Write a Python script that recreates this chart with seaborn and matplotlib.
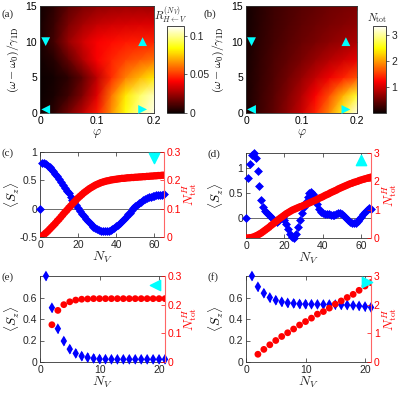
import numpy as np
import matplotlib
matplotlib.use("Agg")
import matplotlib.pyplot as plt
import seaborn as sns

sns.set_style("ticks")
plt.rcParams['font.family'] = ['Liberation Sans', 'DejaVu Sans']
plt.rcParams['mathtext.fontset'] = 'cm'

## heatmap grids (phi columns, detuning rows from bottom to top)
phi = [0.0, 0.025, 0.05, 0.075, 0.1, 0.125, 0.15, 0.175, 0.2]
detuning = [0.0, 2.5, 5.0, 7.5, 10.0, 12.5, 15.0]

R_grid = [
    [0.000, 0.006, 0.018, 0.030, 0.045, 0.065, 0.085, 0.100, 0.110],
    [0.000, 0.003, 0.009, 0.020, 0.036, 0.060, 0.080, 0.095, 0.105],
    [0.000, 0.002, 0.006, 0.015, 0.030, 0.048, 0.062, 0.072, 0.080],
    [0.001, 0.005, 0.015, 0.028, 0.040, 0.047, 0.052, 0.056, 0.060],
    [0.002, 0.010, 0.024, 0.033, 0.040, 0.043, 0.045, 0.046, 0.047],
    [0.002, 0.008, 0.019, 0.026, 0.031, 0.033, 0.034, 0.035, 0.035],
    [0.001, 0.006, 0.014, 0.019, 0.022, 0.024, 0.025, 0.025, 0.025],
]
Ntot_grid = [
    [0.08, 0.25, 0.42, 0.66, 0.95, 1.40, 1.90, 2.60, 3.30],
    [0.07, 0.24, 0.40, 0.60, 0.85, 1.20, 1.60, 2.10, 2.65],
    [0.07, 0.22, 0.36, 0.52, 0.70, 0.92, 1.15, 1.38, 1.62],
    [0.06, 0.20, 0.33, 0.44, 0.56, 0.70, 0.85, 0.98, 1.10],
    [0.06, 0.18, 0.30, 0.39, 0.48, 0.56, 0.65, 0.72, 0.80],
    [0.05, 0.16, 0.27, 0.35, 0.42, 0.49, 0.56, 0.61, 0.66],
    [0.05, 0.15, 0.25, 0.32, 0.38, 0.44, 0.50, 0.54, 0.58],
]

## cyan markers: (phi, detuning, marker)
tri_phi = [0.01, 0.18, 0.01, 0.18]
tri_det = [10, 10, 0.5, 0.5]
tri_mark = ['v', '^', '<', '>']

## panel (c)
nv_cd = list(range(66))
sz_c = [0.00, 0.80, 0.80, 0.78, 0.76, 0.73, 0.70, 0.66, 0.62, 0.57,
        0.52, 0.47, 0.42, 0.37, 0.32, 0.27, 0.21, 0.16, 0.11, 0.06,
        0.01, -0.04, -0.09, -0.13, -0.18, -0.22, -0.25, -0.29, -0.32, -0.34,
        -0.36, -0.38, -0.39, -0.40, -0.40, -0.40, -0.39, -0.38, -0.36, -0.34,
        -0.31, -0.28, -0.25, -0.21, -0.18, -0.14, -0.10, -0.07, -0.03, 0.01,
        0.04, 0.07, 0.10, 0.12, 0.15, 0.17, 0.18, 0.20, 0.21, 0.22,
        0.23, 0.24, 0.24, 0.25, 0.25, 0.26]
ntot_c = [0.000, 0.003, 0.008, 0.014, 0.020, 0.027, 0.034, 0.041, 0.048, 0.056,
          0.063, 0.071, 0.079, 0.087, 0.094, 0.102, 0.109, 0.117, 0.124, 0.131,
          0.138, 0.144, 0.150, 0.156, 0.161, 0.166, 0.171, 0.175, 0.179, 0.183,
          0.186, 0.189, 0.192, 0.194, 0.196, 0.198, 0.199, 0.201, 0.202, 0.203,
          0.204, 0.205, 0.206, 0.207, 0.207, 0.208, 0.209, 0.209, 0.210, 0.210,
          0.211, 0.211, 0.212, 0.212, 0.213, 0.213, 0.214, 0.214, 0.215, 0.215,
          0.216, 0.216, 0.217, 0.217, 0.218, 0.218]

## panel (d)
sz_d = [0.00, 0.80, 1.08, 1.26, 1.31, 1.20, 0.94, 0.64, 0.37, 0.22,
        0.15, 0.11, 0.07, 0.03, -0.02, -0.06, -0.07, -0.04, 0.00, 0.02,
        -0.03, -0.12, -0.22, -0.31, -0.37, -0.39, -0.32, -0.18, -0.04, 0.10,
        0.22, 0.33, 0.42, 0.50, 0.53, 0.49, 0.40, 0.29, 0.19, 0.13,
        0.10, 0.09, 0.08, 0.08, 0.07, 0.07, 0.07, 0.08, 0.10, 0.10,
        0.08, 0.04, 0.00, -0.04, -0.07, -0.09, -0.10, -0.09, -0.06, -0.02,
        0.03, 0.08, 0.13, 0.17, 0.20, 0.19]
ntot_d = [0.00, 0.00, 0.01, 0.02, 0.04, 0.07, 0.10, 0.14, 0.18, 0.23,
          0.28, 0.33, 0.38, 0.44, 0.49, 0.55, 0.60, 0.66, 0.71, 0.76,
          0.81, 0.86, 0.90, 0.94, 0.98, 1.01, 1.04, 1.07, 1.10, 1.12,
          1.15, 1.18, 1.21, 1.24, 1.27, 1.30, 1.33, 1.36, 1.40, 1.43,
          1.46, 1.50, 1.53, 1.56, 1.60, 1.63, 1.66, 1.69, 1.73, 1.76,
          1.79, 1.82, 1.85, 1.88, 1.91, 1.93, 1.96, 1.98, 2.00, 2.03,
          2.05, 2.07, 2.09, 2.11, 2.13, 2.15]

## panels (e), (f)
nv_ef = list(range(1, 22))
nv_ef_red = list(range(2, 22))
sz_e = [0.80, 0.505, 0.31, 0.195, 0.12, 0.08, 0.055, 0.042, 0.033, 0.028,
        0.026, 0.025, 0.025, 0.025, 0.025, 0.025, 0.025, 0.025, 0.025, 0.025, 0.025]
ntot_e = [0.130, 0.180, 0.200, 0.210, 0.216, 0.219, 0.220, 0.221, 0.221, 0.221,
          0.221, 0.221, 0.221, 0.221, 0.221, 0.221, 0.221, 0.221, 0.221, 0.221]
sz_f = [0.80, 0.70, 0.64, 0.60, 0.575, 0.56, 0.55, 0.545, 0.54, 0.538,
        0.537, 0.536, 0.535, 0.535, 0.534, 0.532, 0.530, 0.526, 0.522, 0.516, 0.508]
ntot_f = [0.27, 0.44, 0.60, 0.75, 0.89, 1.02, 1.15, 1.29, 1.41, 1.53,
          1.67, 1.76, 1.88, 2.02, 2.13, 2.25, 2.36, 2.50, 2.65, 2.77]

W, H = 399, 393


def rect(l, t, r, b):
    return [l / W, 1 - b / H, (r - l) / W, (b - t) / H]


def style_ax(ax, right=True):
    ax.tick_params(direction='in', length=3, width=0.5, labelsize=7.5, pad=2,
                   top=True, right=right)
    for s in ax.spines.values():
        s.set_linewidth(0.6)
        s.set_color('#333333')


def ylabel_at(ax, text, xc, color='black', size=9.5):
    # centred rotated label at figure pixel x = xc
    y0, y1 = ax.get_position().y0, ax.get_position().y1
    fig.text(xc / W, (y0 + y1) / 2, text, rotation=90, ha='center', va='center',
             fontsize=size, color=color)


fig = plt.figure(figsize=(W / 100, H / 100), dpi=100)


def heat(l, r, cl, cr, grid, vmax, ticks, ticklabels, cblabel, label_x, label_y,
         letter, letter_x, ylab_x):
    ax = fig.add_axes(rect(l, 6, r, 113))
    mesh = ax.pcolormesh(phi, detuning, np.array(grid), shading='gouraud',
                         cmap='hot', vmin=0, vmax=vmax)
    for p, d, m in zip(tri_phi, tri_det, tri_mark):
        sns.scatterplot(x=[p], y=[d], marker=m, s=40, color='cyan',
                        edgecolor='none', ax=ax, clip_on=False, zorder=5)
    ax.set_xlim(0, 0.2)
    ax.set_ylim(0, 15)
    ax.set_xticks([0, 0.1, 0.2])
    ax.set_xticklabels(['0', '0.1', '0.2'])
    ax.set_yticks([0, 5, 10, 15])
    style_ax(ax)
    ax.tick_params(colors='#888888', labelcolor='black')
    ax.set_xlabel(r'$\varphi$', fontsize=9, labelpad=1)
    ylabel_at(ax, r'$(\omega-\omega_0)/\gamma_{\rm 1D}$', ylab_x, size=8.5)
    cax = fig.add_axes(rect(cl, 26, cr, 113))
    cb = fig.colorbar(mesh, cax=cax)
    cb.set_ticks(ticks)
    cb.set_ticklabels(ticklabels)
    cax.tick_params(direction='out', length=2, width=0.5, labelsize=7.5, pad=2)
    cb.outline.set_linewidth(0.6)
    fig.text(label_x / W, 1 - label_y / H, cblabel, fontsize=8, ha='right', va='center')
    fig.text(letter_x / W, 1 - 14 / H, letter, fontsize=8, family='Liberation Serif',
             ha='left', va='center')


heat(40, 154, 167, 184, R_grid, 0.1125, [0, 0.05, 0.1], ['0', '0.05', '0.1'],
     r'$R^{(N_V)}_{H\leftarrow V}$', 187, 15, '(a)', 1, 13)
heat(246, 357, 373, 386, Ntot_grid, 3.35, [1, 2, 3], ['1', '2', '3'],
     r'$N_{\rm tot}$', 387, 18, '(b)', 204, 218)


def line_panel(l, r, t, b, nv_b, sz, nv_r, nt, xlim, xticks, ylim, yticks, yticklabels,
               rlim, rticks, rticklabels, letter, tri, zero_line, big, ylab_x, rlab_x):
    ax = fig.add_axes(rect(l, t, r, b))
    style_ax(ax, right=False)
    ax.spines['right'].set_visible(False)
    if zero_line:
        ax.axhline(0, color='#555555', lw=0.6, zorder=0)
    if big:
        sns.scatterplot(x=nv_b, y=sz, marker='D', s=16, color='blue', edgecolor='blue',
                        linewidth=0.5, ax=ax, clip_on=False, zorder=3)
    else:
        sns.scatterplot(x=nv_b, y=sz, marker='d', s=30, color='blue', edgecolor='none',
                        ax=ax, clip_on=False, zorder=3)
        sns.scatterplot(x=nv_b, y=sz, marker='|', s=40, color='blue', linewidth=0.8,
                        ax=ax, clip_on=False, zorder=3)
    ax.set_xlim(*xlim)
    ax.set_ylim(*ylim)
    ax.set_xticks(xticks)
    ax.set_yticks(yticks)
    ax.set_yticklabels(yticklabels)
    ax.set_xlabel(r'$N_V$', fontsize=10, labelpad=0)
    ylabel_at(ax, r'$\langle S_z\rangle$', ylab_x)
    ax2 = ax.twinx()
    sns.scatterplot(x=nv_r, y=nt, marker='o', s=28 if big else 24, color='red',
                    edgecolor='none', ax=ax2, clip_on=True, zorder=3)
    tx, ty, tm = tri
    ax2.scatter([tx], [ty], marker=tm, s=55, color='cyan', zorder=6, clip_on=False)
    ax2.set_ylim(*rlim)
    ax2.set_yticks(rticks)
    ax2.set_yticklabels(rticklabels)
    ax2.tick_params(direction='in', length=3, width=0.5, labelsize=7.5, pad=2,
                    colors='red')
    for s in ['top', 'left', 'bottom']:
        ax2.spines[s].set_visible(False)
    ax2.spines['right'].set_color('#ff6666')
    ax2.spines['right'].set_linewidth(0.8)
    ylabel_at(ax2, r'$N^H_{\rm tot}$', rlab_x, color='red')
    fig.text((l - 38) / W, 1 - (t + 1) / H, letter, fontsize=8, family='Liberation Serif',
             ha='left', va='center')
    return ax, ax2


line_panel(40, 164, 152, 237, nv_cd, sz_c, nv_cd, ntot_c, (0, 65), [0, 20, 40, 60],
           (-0.5, 1), [-0.5, 0, 0.5, 1], ['-0.5', '0', '0.5', '1'],
           (0, 0.3), [0, 0.1, 0.2, 0.3], ['0', '0.1', '0.2', '0.3'],
           '(c)', (60, 0.278, 'v'), True, True, 12, 190)
line_panel(246, 371, 153, 238, nv_cd, sz_d, nv_cd, ntot_d, (0, 65), [0, 20, 40, 60],
           (-0.4, 1.3), [0, 0.5, 1], ['0', '0.5', '1'],
           (0, 3), [0, 1, 2, 3], ['0', '1', '2', '3'],
           '(d)', (60, 2.75, '^'), True, True, 216, 390)
line_panel(40, 165, 276, 362, nv_ef, sz_e, nv_ef_red, ntot_e, (0, 21), [0, 10, 20],
           (0, 0.8), [0, 0.2, 0.4, 0.6], ['0', '0.2', '0.4', '0.6'],
           (0, 0.3), [0, 0.1, 0.2, 0.3], ['0', '0.1', '0.2', '0.3'],
           '(e)', (19.4, 0.27, '<'), False, False, 12, 190)
line_panel(246, 371, 276, 362, nv_ef, sz_f, nv_ef_red, ntot_f, (0, 21), [0, 10, 20],
           (0, 0.8), [0, 0.2, 0.4, 0.6], ['0', '0.2', '0.4', '0.6'],
           (0, 3), [0, 1, 2, 3], ['0', '1', '2', '3'],
           '(f)', (20.4, 2.8, '>'), False, False, 216, 390)

fig.savefig('out.png', dpi=100)
